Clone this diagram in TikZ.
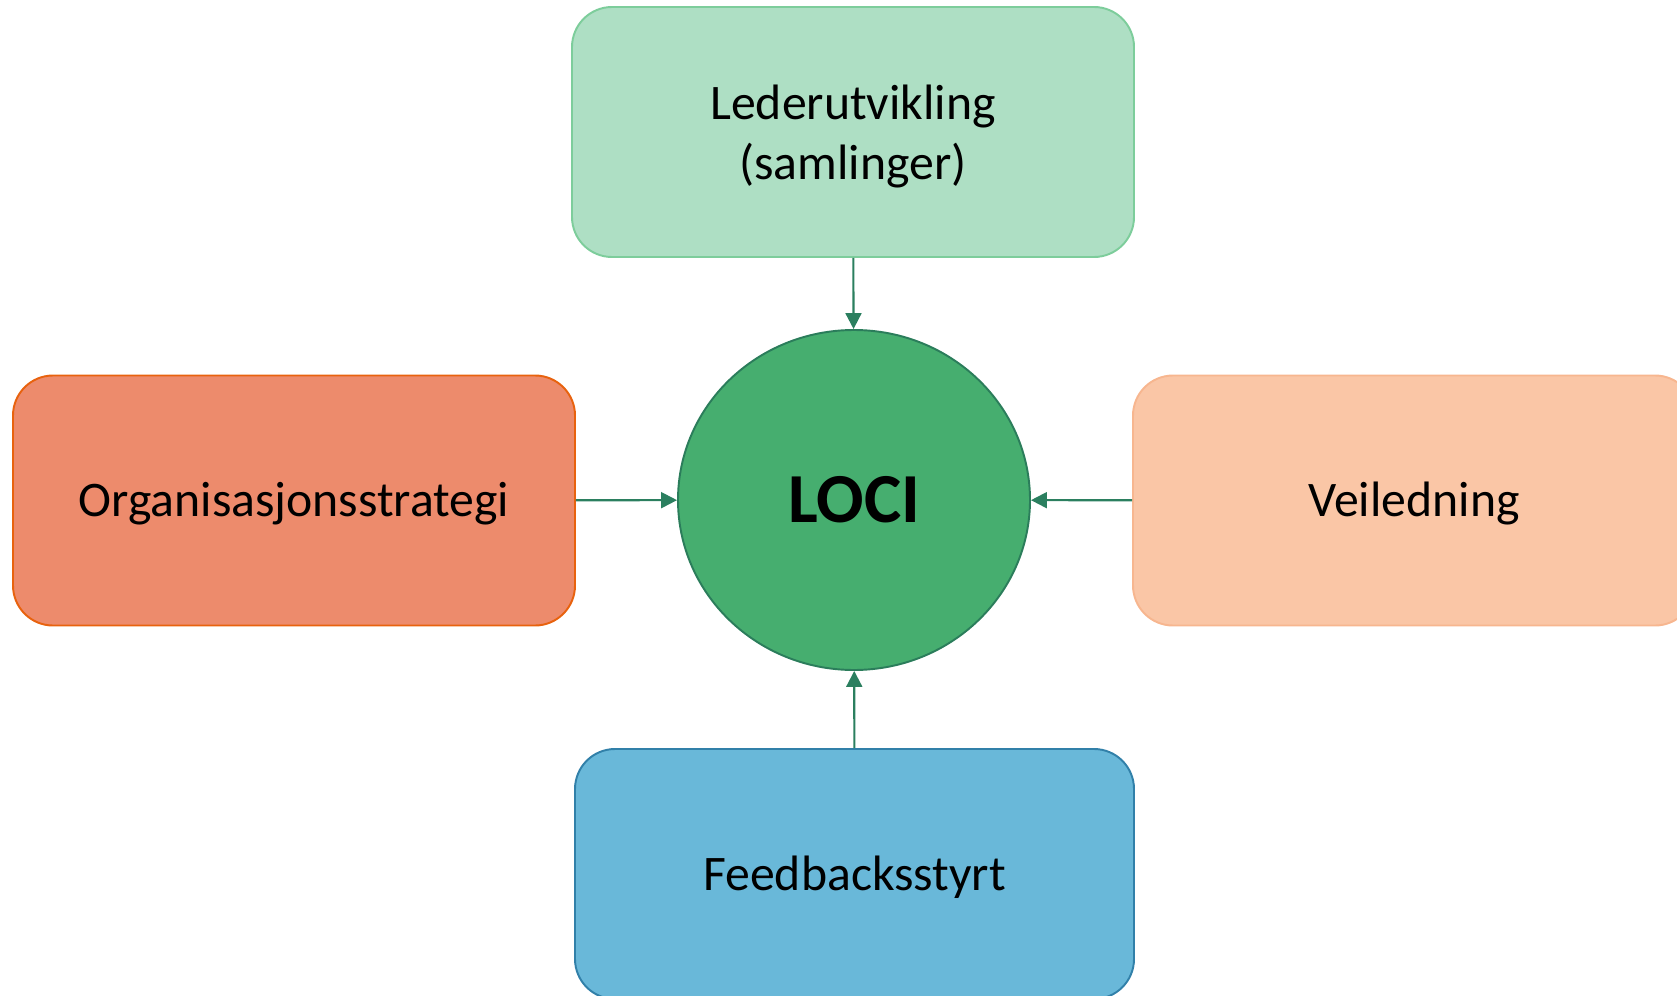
\documentclass[tikz,border=0pt]{standalone}
\usepackage{fontspec}
\setmainfont{Carlito}
\usepackage{tikz}
\usepackage{xcolor}
\usetikzlibrary{arrows.meta, shapes}

\definecolor{ledfill}{HTML}{AEDFC4}
\definecolor{ledline}{HTML}{7DCD9B}
\definecolor{orgfill}{HTML}{ED8B6C}
\definecolor{orgline}{HTML}{E8620E}
\definecolor{veifill}{HTML}{FAC6A6}
\definecolor{veiline}{HTML}{F7B68F}
\definecolor{fbfill}{HTML}{69B8D9}
\definecolor{fbline}{HTML}{3180A9}
\definecolor{locifill}{HTML}{46AE6F}
\definecolor{lociline}{HTML}{2B7D5B}
\definecolor{linkgreen}{HTML}{2B7F5F}

\tikzset{
    box/.style={rectangle, rounded corners=0.8cm, minimum width=11.24cm, minimum height=5cm, line width=1.1pt, align=center, font=\fontsize{28.3}{34}\selectfont, text height=18.2pt, text depth=0pt},
    link/.style={draw=linkgreen, line width=1.2pt, -{Triangle[length=9pt, width=9pt]}}
}

\begin{document}
\begin{tikzpicture}
            \clip (0, 0) rectangle (33.54, -19.92);

            \node[ellipse, draw=lociline, fill=locifill, line width=1.1pt, minimum width=7.04cm, minimum height=6.8cm, font=\fontsize{40}{48}\selectfont\bfseries, text height=25.8pt, text depth=0pt] (loci) at (17.08, -10) {LOCI};
            \node[box, draw=ledline, fill=ledfill, text height=54pt] (led) at (17.06, -2.64) {Lederutvikling\\(samlinger)};
            \node[box, draw=orgline, fill=orgfill] (org) at (5.88, -10.01) {Organisasjonsstrategi};
            \node[box, draw=veiline, fill=veifill] (vei) at (28.28, -10.01) {Veiledning};
            \node[box, draw=fbline, fill=fbfill, minimum width=11.18cm] (fb) at (17.09, -17.48) {Feedbacksstyrt};

            \draw[link] (led) -- (loci);
            \draw[link] (org) -- (loci);
            \draw[link] (vei) -- (loci);
            \draw[link] (fb) -- (loci);
        \end{tikzpicture}
\end{document}
